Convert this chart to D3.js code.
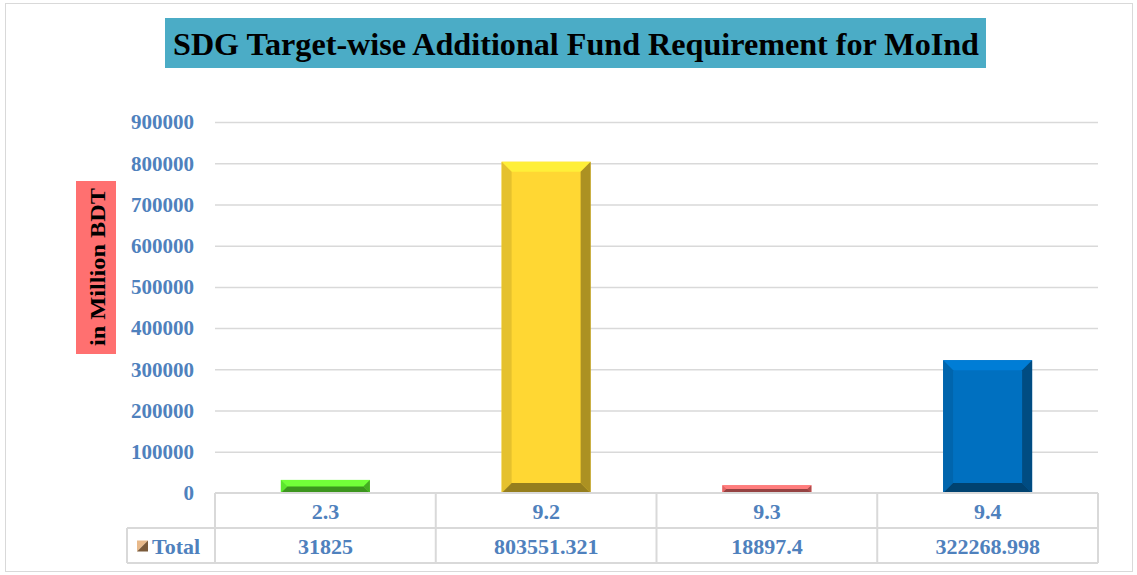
<!DOCTYPE html>
<html lang="en">
<head>
    <meta charset="UTF-8">
    <title>SDG Target-wise Additional Fund Requirement for MoInd</title>
    <script type="text/javascript" src="https://cdn.jsdelivr.net/npm/d3@7/dist/d3.min.js"></script>
    <style>
        body { margin: 0; background: #fff; }
        text { font-family: "Liberation Serif", "DejaVu Serif", serif; font-weight: bold; }
    </style>
</head>
<body>
<script type="text/javascript">
    const width = 1137, height = 575;

    // data
    const targets = ['2.3', '9.2', '9.3', '9.4'];
    const totals = [31825, 803551.321, 18897.4, 322268.998];
    const totalLabels = ['31825', '803551.321', '18897.4', '322268.998'];
    const barColors = ['#66FF33', '#FFD733', '#FF7070', '#0070C0'];
    const yTicks = [0, 100000, 200000, 300000, 400000, 500000, 600000, 700000, 800000, 900000];

    const plot = {left: 215, right: 1098, top: 122, bottom: 493};
    const rowH = 35;
    const blue = '#4F81BD';
    const gridColor = '#D9D9D9';

    const svg = d3.select('body').append('svg')
        .attr('width', width)
        .attr('height', height);

    // chart border
    svg.append('rect')
        .attr('x', 5.5).attr('y', 3.5)
        .attr('width', 1127).attr('height', 568)
        .attr('fill', '#fff')
        .attr('stroke', gridColor);

    const x = d3.scaleBand()
        .domain(targets)
        .range([plot.left, plot.right])
        .paddingInner(0)
        .paddingOuter(0);

    const y = d3.scaleLinear()
        .domain([0, 900000])
        .range([plot.bottom, plot.top]);

    // gridlines
    svg.append('g').selectAll('line')
        .data(yTicks.filter(d => d > 0))
        .enter().append('line')
        .attr('x1', plot.left).attr('x2', plot.right)
        .attr('y1', d => y(d) + 0.5).attr('y2', d => y(d) + 0.5)
        .attr('stroke', gridColor).attr('stroke-width', 1.5);

    // y tick labels
    svg.append('g').selectAll('text')
        .data(yTicks)
        .enter().append('text')
        .attr('x', 194)
        .attr('y', d => y(d))
        .attr('dy', '0.35em')
        .attr('text-anchor', 'end')
        .attr('fill', blue)
        .style('font-size', '21px')
        .text(d => d);

    // bevelled bars
    const barW = 89;
    const shade = (c, k) => k > 0 ? d3.color(c).brighter(k).formatHex() : d3.color(c).darker(-k).formatHex();
    const bars = svg.append('g');
    totals.forEach(function (v, i) {
        const cx = x(targets[i]) + x.bandwidth() / 2;
        const x0 = cx - barW / 2, x1 = cx + barW / 2;
        const y0 = y(v), y1 = y(0);
        const b = Math.min(10, (y1 - y0) / 2, barW / 2);
        const c = barColors[i];
        const g = bars.append('g');
        g.append('rect')
            .attr('x', x0).attr('y', y0)
            .attr('width', barW).attr('height', y1 - y0)
            .attr('fill', c);
        const faces = [
            {pts: [[x0, y0], [x1, y0], [x1 - b, y0 + b], [x0 + b, y0 + b]], k: 0.3},
            {pts: [[x0, y0], [x0 + b, y0 + b], [x0 + b, y1 - b], [x0, y1]], k: -0.3},
            {pts: [[x1, y0], [x1, y1], [x1 - b, y1 - b], [x1 - b, y0 + b]], k: -1.1},
            {pts: [[x0, y1], [x0 + b, y1 - b], [x1 - b, y1 - b], [x1, y1]], k: -1.5}
        ];
        g.selectAll('polygon')
            .data(faces)
            .enter().append('polygon')
            .attr('points', d => d.pts.map(p => p.join(',')).join(' '))
            .attr('fill', d => shade(c, d.k));
    });

    // data table
    const tbl = svg.append('g')
        .attr('fill', 'none')
        .attr('stroke', gridColor)
        .attr('stroke-width', 2);
    tbl.append('line')
        .attr('x1', plot.left).attr('x2', plot.right)
        .attr('y1', plot.bottom).attr('y2', plot.bottom);
    tbl.append('line')
        .attr('x1', 127).attr('x2', plot.right)
        .attr('y1', plot.bottom + rowH).attr('y2', plot.bottom + rowH);
    tbl.append('line')
        .attr('x1', 127).attr('x2', plot.right)
        .attr('y1', plot.bottom + 2 * rowH).attr('y2', plot.bottom + 2 * rowH);
    tbl.append('line')
        .attr('x1', 127).attr('x2', 127)
        .attr('y1', plot.bottom + rowH).attr('y2', plot.bottom + 2 * rowH);
    tbl.selectAll('line.v')
        .data(targets.map(t => x(t)).concat([plot.right]))
        .enter().append('line')
        .attr('class', 'v')
        .attr('x1', d => d).attr('x2', d => d)
        .attr('y1', plot.bottom).attr('y2', plot.bottom + 2 * rowH);

    svg.append('g').selectAll('text')
        .data(targets)
        .enter().append('text')
        .attr('x', d => x(d) + x.bandwidth() / 2)
        .attr('y', plot.bottom + rowH / 2 + 1)
        .attr('dy', '0.35em')
        .attr('text-anchor', 'middle')
        .attr('fill', blue)
        .style('font-size', '22px')
        .text(d => d);

    svg.append('g').selectAll('text')
        .data(totalLabels)
        .enter().append('text')
        .attr('x', (d, i) => x(targets[i]) + x.bandwidth() / 2)
        .attr('y', plot.bottom + rowH * 1.5 + 1)
        .attr('dy', '0.35em')
        .attr('text-anchor', 'middle')
        .attr('fill', blue)
        .style('font-size', '22px')
        .text(d => d);

    // legend key + series name
    const kx = 137, ky = plot.bottom + rowH * 1.5 - 5, ks = 11;
    svg.append('polygon')
        .attr('points', [[kx, ky], [kx + ks, ky], [kx, ky + ks]].map(p => p.join(',')).join(' '))
        .attr('fill', '#E8B98A');
    svg.append('polygon')
        .attr('points', [[kx + ks, ky], [kx + ks, ky + ks], [kx, ky + ks]].map(p => p.join(',')).join(' '))
        .attr('fill', '#7A5A3A');
    svg.append('text')
        .attr('x', 152)
        .attr('y', plot.bottom + rowH * 1.5 + 1)
        .attr('dy', '0.35em')
        .attr('fill', blue)
        .style('font-size', '22px')
        .text('Total');

    // title
    svg.append('rect')
        .attr('x', 165).attr('y', 18)
        .attr('width', 821).attr('height', 50)
        .attr('fill', '#4BACC6');
    svg.append('text')
        .attr('x', 576).attr('y', 44)
        .attr('dy', '0.35em')
        .attr('text-anchor', 'middle')
        .attr('fill', '#000')
        .style('font-size', '32px')
        .attr('textLength', 806)
        .attr('lengthAdjust', 'spacingAndGlyphs')
        .text('SDG Target-wise Additional Fund Requirement for MoInd');

    // y axis title
    svg.append('rect')
        .attr('x', 76).attr('y', 181)
        .attr('width', 40).attr('height', 173)
        .attr('fill', '#FF7070');
    svg.append('text')
        .attr('transform', 'translate(97,267) rotate(-90)')
        .attr('dy', '0.35em')
        .attr('text-anchor', 'middle')
        .attr('fill', '#000')
        .style('font-size', '22px')
        .attr('textLength', 158)
        .attr('lengthAdjust', 'spacingAndGlyphs')
        .text('in Million BDT');
</script>
</body>
</html>
